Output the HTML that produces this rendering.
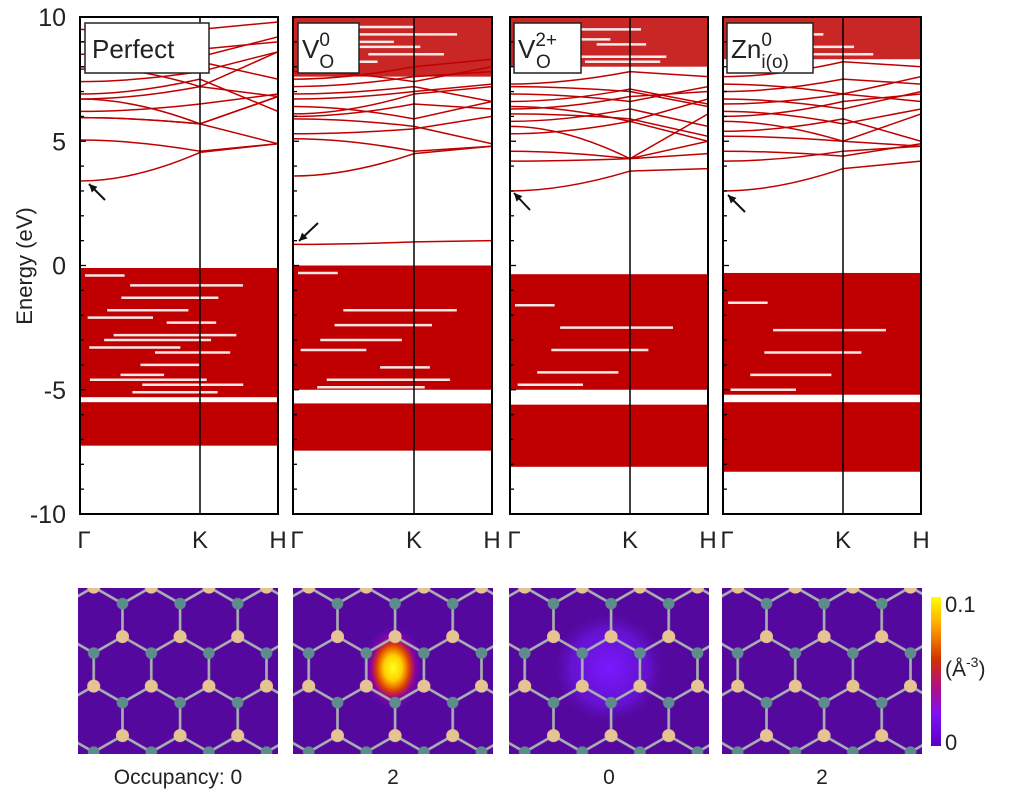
<!DOCTYPE html>
<html><head><meta charset="utf-8"><style>
body{margin:0;background:#fff;}
svg{display:block;font-family:"Liberation Sans",sans-serif;}
</style></head><body>
<svg id="fig" width="1024" height="795" viewBox="0 0 1024 795">
<defs>
<pattern id="lat" x="0" y="0" width="57.6" height="99" patternUnits="userSpaceOnUse">
<g stroke="#a8b0b0" stroke-width="2.6">
<line x1="0" y1="0" x2="0" y2="33"/><line x1="57.6" y1="0" x2="57.6" y2="33"/>
<line x1="0" y1="33" x2="28.8" y2="49.5"/><line x1="57.6" y1="33" x2="28.8" y2="49.5"/>
<line x1="28.8" y1="49.5" x2="28.8" y2="82.5"/>
<line x1="28.8" y1="82.5" x2="0" y2="99"/><line x1="28.8" y1="82.5" x2="57.6" y2="99"/>
</g>
<g fill="#e6c492"><circle cx="0" cy="33" r="6.5"/><circle cx="57.6" cy="33" r="6.5"/><circle cx="28.8" cy="82.5" r="6.5"/></g>
<g fill="#5e8c8c"><circle cx="0" cy="0" r="5.8"/><circle cx="57.6" cy="0" r="5.8"/><circle cx="0" cy="99" r="5.8"/><circle cx="57.6" cy="99" r="5.8"/><circle cx="28.8" cy="49.5" r="5.8"/></g>
</pattern>
<radialGradient id="hot" cx="50%" cy="50%" r="50%">
<stop offset="0" stop-color="#ffff20"/><stop offset="0.3" stop-color="#ffd000"/><stop offset="0.55" stop-color="#e04000"/><stop offset="0.75" stop-color="#a000a0" stop-opacity="0.7"/><stop offset="1" stop-color="#6010d0" stop-opacity="0"/>
</radialGradient>
<radialGradient id="soft" cx="50%" cy="50%" r="50%">
<stop offset="0" stop-color="#7a18ff"/><stop offset="0.7" stop-color="#7018f0" stop-opacity="0.6"/><stop offset="1" stop-color="#5a10c0" stop-opacity="0"/>
</radialGradient>
<linearGradient id="cbar" x1="0" y1="0" x2="0" y2="1">
<stop offset="0" stop-color="#ffff00"/><stop offset="0.2" stop-color="#ffa000"/><stop offset="0.42" stop-color="#d03000"/><stop offset="0.6" stop-color="#b01080"/><stop offset="0.78" stop-color="#8010f0"/><stop offset="1" stop-color="#5a00c8"/>
</linearGradient>
</defs>
<g id="plots"></g>
<g id="maps"></g>
</svg>
<script>
const yTicks=[10,5,0,-5,-10];
const kLabels=["Γ","K","H"];
const panelNames=["Perfect","V_O^0","V_O^2+","Zn_i(o)^0"];
// dense band blocks [top,bottom] eV
const blocks1=[[-0.1,-5.3],[-5.5,-7.25]];
const blocks2=[[0,-5.0],[-5.55,-7.45],[10,7.6]];
const blocks3=[[-0.35,-5.0],[-5.6,-8.1],[10,8.0]];
const blocks4=[[-0.3,-5.2],[-5.5,-8.3],[10,8.3]];
// white gap streaks inside blocks [energy]
const gaps1=[-0.4,-0.8,-1.3,-1.8,-2.1,-2.3,-2.8,-3.0,-3.3,-3.5,-4.0,-4.4,-4.6,-4.8,-5.1];
const gaps2=[-0.3,-1.8,-2.4,-3.0,-3.4,-4.1,-4.6,-4.9,9.0,8.5,9.6,8.2,8.8,9.3];
const gaps3=[-1.6,-2.5,-3.4,-4.3,-4.8,8.9,8.4,9.5,9.1,8.2];
const gaps4=[-1.5,-2.6,-3.5,-4.4,-5.0,-8.5,-8.7,8.8,9.3,8.5];
// bands [E(Γ),E(K),E(H)]
const bands1=[[3.4,4.55,4.9],[5.05,4.6,4.9],[5.95,5.7,4.9],[5.95,5.7,6.8],[6.7,5.7,6.8],[6.7,7.2,6.8],[6.9,7.5,6.2],[7.4,7.8,8.6],[8.0,7.2,8.6],[8.5,8.7,9.0],[9.0,9.5,9.8],[9.5,8.2,7.5],[6.2,6.5,6.9],[7.9,8.4,9.2]];
const bands2=[[0.85,0.95,1.0],[3.6,4.5,4.8],[5.1,4.6,4.8],[5.3,5.5,6.0],[5.9,5.6,4.9],[6.0,6.5,6.3],[6.4,5.9,6.6],[6.7,7.0,7.3],[6.9,7.2,6.6],[7.2,7.6,7.8],[7.5,8.0,8.3],[7.8,7.4,8.0],[6.1,6.9,7.2]];
const bands3=[[3.0,3.8,3.9],[4.2,4.3,4.5],[4.6,4.3,5.0],[5.3,5.8,5.0],[5.6,4.3,6.1],[6.1,5.9,5.2],[6.4,5.8,6.7],[6.6,7.1,6.5],[6.9,6.6,7.2],[7.2,7.0,6.4],[7.3,7.8,7.6],[5.8,6.3,5.6],[6.3,6.8,7.0]];
const bands4=[[3.0,3.9,4.2],[4.2,4.6,4.8],[4.6,4.4,4.9],[5.2,5.0,4.8],[5.4,5.9,5.0],[5.8,5.0,6.1],[6.2,5.7,6.3],[6.5,6.9,6.6],[6.7,6.3,7.0],[7.0,7.5,7.3],[7.3,6.9,7.6],[7.6,8.2,8.0],[6.0,6.6,6.9]];
const occupancy=["Occupancy: 0","2","0","2"];

const NS="http://www.w3.org/2000/svg";
const svg=document.getElementById('fig');
const gP=document.getElementById('plots'), gM=document.getElementById('maps');
function mk(t,a,p){const e=document.createElementNS(NS,t);for(const k in a)e.setAttribute(k,a[k]);(p||svg).appendChild(e);return e;}
const Y0=17,Y1=514,EMAX=10,EMIN=-10;
function yS(e){return Y0+(EMAX-e)/(EMAX-EMIN)*(Y1-Y0);}
const panels=[{x0:80,x1:278,k:200},{x0:293,x1:492,k:414},{x0:510,x1:708,k:630},{x0:723,x1:921,k:843}];
const allBlocks=[blocks1,blocks2,blocks3,blocks4];
const allGaps=[gaps1,gaps2,gaps3,gaps4];
const allBands=[bands1,bands2,bands3,bands4];
const RED="#c00000";

panels.forEach((p,i)=>{
  const cp=mk('clipPath',{id:'clip'+i},svg);
  mk('rect',{x:p.x0,y:Y0,width:p.x1-p.x0,height:Y1-Y0},cp);
  const g=mk('g',{'clip-path':`url(#clip${i})`},gP);
  
  
  allBlocks[i].forEach(b=>{
    const top=Math.max(b[0],b[1]),bot=Math.min(b[0],b[1]);
    const r=mk('rect',{x:p.x0,y:yS(top),width:p.x1-p.x0,height:yS(bot)-yS(top),fill:RED,opacity:top>5?0.85:1},g);
    
    
  });
  allGaps[i].forEach((e,j)=>{
    const w=(p.x1-p.x0)*(0.2+((j*37)%45)/100);
    const x=p.x0+((j*53)%70)/100*(p.x1-p.x0-w)+5;
    const l=mk('line',{x1:x,x2:x+w,y1:yS(e),y2:yS(e),stroke:'#fff','stroke-width':2.5,opacity:0.9},g);
    
    
  });
  allBands[i].forEach(b=>{
    const xg=p.x0,xk=p.k,xh=p.x1;
    const d=`M${xg},${yS(b[0])} Q${xg+(xk-xg)*0.45},${yS(b[0])} ${xk},${yS(b[1])} L${xh},${yS(b[2])}`;
    const pa=mk('path',{d:d,fill:'none',stroke:RED,'stroke-width':1.5},g);
    
    
  });
  const kl=mk('line',{x1:p.k,x2:p.k,y1:Y0,y2:Y1,stroke:'#000','stroke-width':1.5},gP);
  
  
  const fr=mk('rect',{x:p.x0,y:Y0,width:p.x1-p.x0,height:Y1-Y0,fill:'none',stroke:'#000','stroke-width':2},gP);
  
  
  for(let e=EMIN;e<=EMAX;e++){
    const len=(e%5===0)?6:4;
    mk('line',{x1:p.x0,x2:p.x0+len,y1:yS(e),y2:yS(e),stroke:'#000','stroke-width':1.3},gP);
  }
  [p.x0,p.k,p.x1].forEach((x,j)=>{
    const t=mk('text',{x:x-(j==0?-4:0),y:548,'text-anchor':'middle','font-size':24,fill:'#222'},gP);
    t.textContent=kLabels[j];
    
    
  });
});
yTicks.forEach(v=>{
  const t=mk('text',{x:66,y:yS(v)+9,'text-anchor':'end','font-size':25,fill:'#222'},gP);
  t.textContent=v;
  
  
});
const yt=mk('text',{x:0,y:0,transform:'translate(32,266) rotate(-90)','text-anchor':'middle','font-size':22,fill:'#222'},gP);
yt.textContent='Energy (eV)';



const boxes=[[85,23,124],[298,23,61],[514,23,67],[727,23,86]];
boxes.forEach((b,i)=>{
  const r=mk('rect',{x:b[0],y:b[1],width:b[2],height:50,fill:'#fff',stroke:'#222','stroke-width':1.5},gP);
  
  
});
function lab(x,y,main,sub,sup,name){
  const t=mk('text',{x:x,y:y,'font-size':26,fill:'#222'},gP);
  
  
  const a=mk('tspan',{},t);a.textContent=main;
  if(sup){const s=mk('tspan',{'font-size':19,dy:-12},t);s.textContent=sup;}
  if(sub){const s=mk('tspan',{'font-size':19,dx:sup?-(sup.length*10.5):0,dy:sup?22:10},t);s.textContent=sub;}
}
lab(92,58,'Perfect',null,null,'label-perfect');
lab(302,58,'V','O','0','label-vo0');
lab(518,58,'V','O','2+','label-vo2');
lab(731,58,'Zn','i(o)','0','label-zn');
const arrows=[[105,200,89,184],[318,223,299,241],[530,210,514,193],[745,212,728,195]];
arrows.forEach(a=>{
  const g=mk('g',{stroke:'#111','stroke-width':2,fill:'#111'},gP);
  
  
  mk('line',{x1:a[0],y1:a[1],x2:a[2],y2:a[3]},g);
  const dx=a[2]-a[0],dy=a[3]-a[1],L=Math.hypot(dx,dy),ux=dx/L,uy=dy/L;
  const bx=a[2]-ux*8,by=a[3]-uy*8;
  mk('polygon',{points:`${a[2]},${a[3]} ${bx-uy*4},${by+ux*4} ${bx+uy*4},${by-ux*4}`,stroke:'none'},g);
});

const mapX=[78,293,509,722];
mapX.forEach((x,i)=>{
  const g=mk('g',{},gM);
  
  
  mk('rect',{x:x,y:588,width:200,height:166,fill:'#55089e'},g);
  if(i==1){mk('ellipse',{cx:x+100,cy:668,rx:30,ry:42,fill:'url(#hot)'},g);}
  if(i==2){mk('ellipse',{cx:x+100,cy:668,rx:55,ry:55,fill:'url(#soft)'},g);}
  const cp=mk('clipPath',{id:'mc'+i},svg);
  mk('rect',{x:0,y:0,width:200,height:166},cp);
  const tg=mk('g',{transform:`translate(${x},588)`},g);
  const inner=mk('g',{'clip-path':`url(#mc${i})`},tg);
  const sh=mk('g',{transform:'translate(44.5,15.6)'},inner);
  mk('rect',{x:-60,y:-110,width:320,height:300,fill:'url(#lat)'},sh);
  const t=mk('text',{x:x+100,y:784,'text-anchor':'middle','font-size':21,fill:'#222'},gM);
  t.textContent=occupancy[i];
  
  
});
const cb=mk('rect',{x:931,y:597,width:10,height:149,fill:'url(#cbar)'},gM);


[['0.1',612],['0',750]].forEach(a=>{
  const t=mk('text',{x:945,y:a[1],'font-size':22,fill:'#222'},gM);
  t.textContent=a[0];
  
  
});
const cu=mk('text',{x:945,y:676,'font-size':21,fill:'#222'},gM);


mk('tspan',{},cu).textContent='(Å';
mk('tspan',{'font-size':14,dy:-9},cu).textContent='-3';
mk('tspan',{dy:9},cu).textContent=')';
</script>
</body></html>
